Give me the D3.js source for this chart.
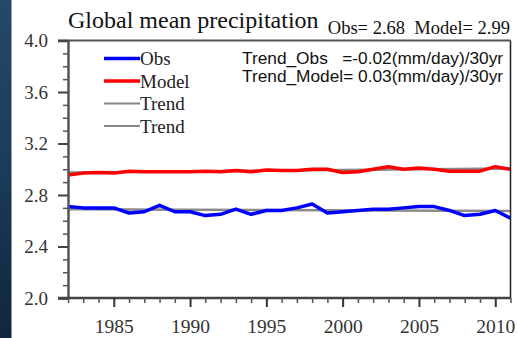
<!DOCTYPE html>
<html><head><meta charset="utf-8">
<script src="https://cdn.jsdelivr.net/npm/d3@7"></script>
<style>html,body{margin:0;padding:0;background:#fff;overflow:hidden}</style>
</head><body>
<svg id="c" width="517" height="338"></svg>
<script>
const years = d3.range(1982, 2012);
const obs = [2.71,2.70,2.70,2.70,2.66,2.67,2.72,2.67,2.67,2.64,2.65,2.69,2.65,2.68,2.68,2.70,2.73,2.66,2.67,2.68,2.69,2.69,2.70,2.71,2.71,2.68,2.64,2.65,2.68,2.62];
const model = [2.955,2.97,2.975,2.97,2.985,2.98,2.98,2.98,2.98,2.985,2.98,2.99,2.98,2.995,2.99,2.99,3.00,3.00,2.975,2.98,3.00,3.02,3.00,3.01,3.00,2.985,2.985,2.985,3.02,3.00];
const trendYears = [1982, 2011];
const obsTrend = [2.69, 2.675];
const modelTrend = [2.975, 3.005];
const yTicks = [2.0, 2.4, 2.8, 3.2, 3.6, 4.0];
const xTicks = [1985, 1990, 1995, 2000, 2005, 2010];
const legendLabels = ["Obs", "Model", "Trend", "Trend"];
const legendColors = ["#0000ff", "#ff0000", "#888", "#888"];
const titleText = "Global mean precipitation";
const subTitle = "Obs= 2.68  Model= 2.99";
const trendTexts = ["Trend_Obs   =-0.02(mm/day)/30yr", "Trend_Model= 0.03(mm/day)/30yr"];

const svg = d3.select("#c");
const defs = svg.append("defs");
const g = defs.append("linearGradient").attr("id","bg").attr("x1",0).attr("y1",0).attr("x2",0).attr("y2",1);
g.append("stop").attr("offset","0%").attr("stop-color","#25496b");
g.append("stop").attr("offset","50%").attr("stop-color","#1b3b5a");
g.append("stop").attr("offset","100%").attr("stop-color","#10263c");
svg.append("rect").attr("x",0).attr("y",0).attr("width",11.5).attr("height",338).attr("fill","url(#bg)");

const L = 68, R = 510.5, T = 40.5, B = 298;
const x = d3.scaleLinear().domain([1982, 2011]).range([L, R]);
const y = d3.scaleLinear().domain([2.0, 4.0]).range([B, T]);

const line = d3.line().x(d => x(d[0])).y(d => y(d[1]));
[obsTrend, modelTrend].forEach(t => {
  svg.append("path").attr("d", line(trendYears.map((yr,i)=>[yr,t[i]])))
    .attr("stroke","#8a8a8a").attr("stroke-width",2.5).attr("fill","none");
});
svg.append("path").attr("d", line(years.map((yr,i)=>[yr, model[i]])))
  .attr("stroke","#ff0000").attr("stroke-width",3.5).attr("fill","none").attr("stroke-linejoin","round");
svg.append("path").attr("d", line(years.map((yr,i)=>[yr, obs[i]])))
  .attr("stroke","#0000ff").attr("stroke-width",3.5).attr("fill","none").attr("stroke-linejoin","round");

svg.append("line").attr("x1",L-10).attr("x2",R).attr("y1",T).attr("y2",T).attr("stroke","#555").attr("stroke-width",2);
svg.append("line").attr("x1",R).attr("x2",R).attr("y1",T).attr("y2",B).attr("stroke","#222").attr("stroke-width",1.5);

const ya = svg.append("g").attr("transform",`translate(${L},0)`)
  .call(d3.axisLeft(y).tickValues(yTicks).tickFormat(d3.format(".1f")).tickSize(10).tickPadding(10));
ya.select(".domain").attr("stroke","#555").attr("stroke-width",2.5);
ya.selectAll(".tick line").attr("stroke","#444").attr("stroke-width",2);
ya.selectAll("text").attr("font-family","Liberation Serif").attr("font-size",19).attr("fill","#333");
const yMinor = d3.range(2.1, 4.0, 0.1).filter(v => Math.abs(Math.round(v*10) % 4) !== 0);
svg.append("g").attr("transform",`translate(${L},0)`)
  .call(d3.axisLeft(y).tickValues(yMinor).tickSize(5).tickFormat(""))
  .call(s => { s.select(".domain").remove(); s.selectAll("line").attr("stroke","#555").attr("stroke-width",1.5); });

const xa = svg.append("g").attr("transform",`translate(0,${B})`)
  .call(d3.axisBottom(x).tickValues(xTicks).tickFormat(d3.format("d")).tickSize(9).tickPadding(12));
xa.select(".domain").attr("stroke","#444").attr("stroke-width",2.5).attr("d",`M${L-10},0H${R}`);
xa.selectAll(".tick line").attr("stroke","#333").attr("stroke-width",2);
xa.selectAll("text").attr("font-family","Liberation Serif").attr("font-size",19.5).attr("fill","#333");
const xMinor = years.filter(v => v % 5 !== 0);
svg.append("g").attr("transform",`translate(0,${B})`)
  .call(d3.axisBottom(x).tickValues(xMinor).tickSize(5).tickFormat(""))
  .call(s => { s.select(".domain").remove(); s.selectAll("line").attr("stroke","#555").attr("stroke-width",1.5); });

svg.append("text").attr("x",L).attr("y",27.5).attr("font-family","Liberation Serif").attr("font-size",24).attr("fill","#111").text(titleText);
svg.append("text").attr("x",510).attr("y",33.5).attr("text-anchor","end").attr("font-family","Liberation Serif").attr("font-size",18.5).attr("fill","#111").style("white-space","pre").text(subTitle);

legendLabels.forEach((lab,i) => {
  const ly = 58.5 + i*22.5;
  svg.append("line").attr("x1",104).attr("x2",140).attr("y1",ly).attr("y2",ly)
    .attr("stroke",legendColors[i]).attr("stroke-width", i<2 ? 3.5 : 2);
  svg.append("text").attr("x",140).attr("y",ly+6.5).attr("font-family","Liberation Serif").attr("font-size",19).attr("fill","#222").text(lab);
});

trendTexts.forEach((t,i) => {
  svg.append("text").attr("x",242).attr("y",63.5 + i*18.5).attr("font-family","Liberation Sans").attr("font-size",17.3)
    .attr("fill","#111").style("white-space","pre").text(t);
});
</script>
</body></html>
